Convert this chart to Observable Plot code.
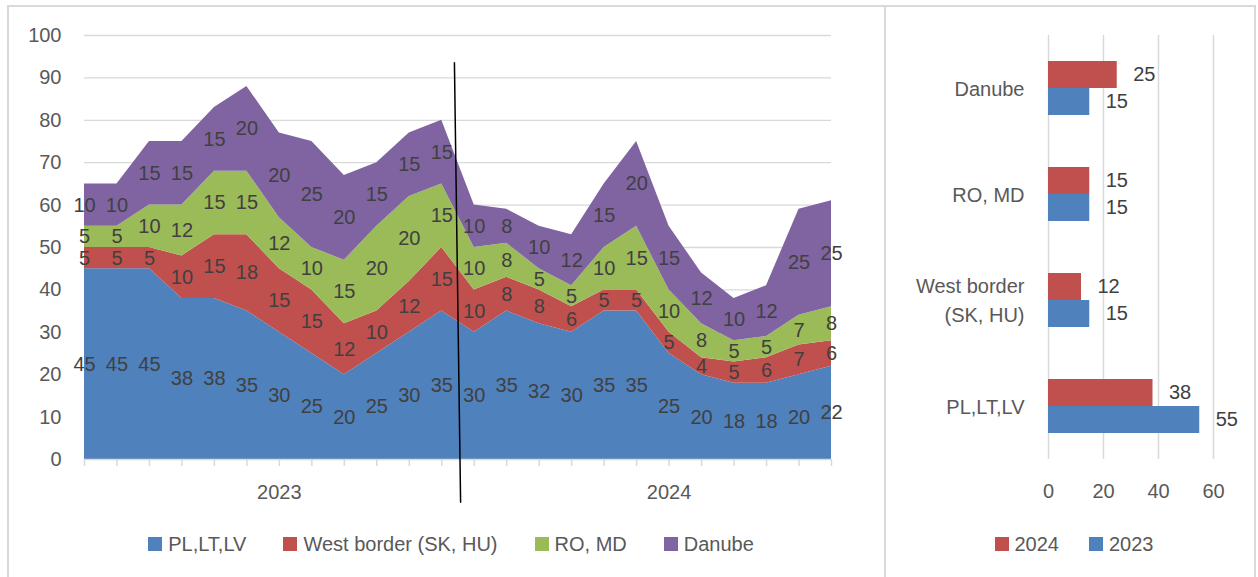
<!DOCTYPE html>
<html>
<head>
<meta charset="utf-8">
<script src="https://cdn.jsdelivr.net/npm/d3@7"></script>
<script src="https://cdn.jsdelivr.net/npm/@observablehq/plot@0.6"></script>
<style>
  html, body { margin: 0; padding: 0; background: #fff; }
  #root { position: relative; width: 1258px; height: 577px; overflow: hidden; background: #fff;
          font-family: "Liberation Sans", Arial, sans-serif; }
  .frame { position: absolute; left: 7px; top: 5px; width: 1249px; height: 640px;
           border: 2px solid #d9d9d9; box-sizing: border-box; }
  .divider { position: absolute; left: 884px; top: 5px; width: 2px; height: 640px; background: #d9d9d9; }
  #left { position: absolute; left: 0; top: 0; }
  #right { position: absolute; left: 885px; top: 0; }
  .legend { position: absolute; top: 532px; height: 24px; display: flex; justify-content: center;
            align-items: center; font-size: 20px; color: #595959; }
  .legend .item { display: flex; align-items: center; margin: 0 15px; white-space: nowrap; }
  #legendLeft .item { margin: 0 18.5px; }
  .legend .sw { width: 14px; height: 14px; margin-right: 6px; }
  svg { overflow: visible; }
</style>
</head>
<body>
<div id="root">
  <div class="frame"></div>
  <div class="divider"></div>
  <div id="left"></div>
  <div id="right"></div>
  <div class="legend" id="legendLeft" style="left:0; width:902px;"></div>
  <div class="legend" id="legendRight" style="left:890px; width:368px;"></div>
</div>
<script>
// ---------- data ----------
const seriesNames = ["PL,LT,LV", "West border (SK, HU)", "RO, MD", "Danube"];
const seriesColors = ["#4f81bd", "#c0504d", "#9bbb59", "#8064a2"];
const monthYear = ["2023","2023","2023","2023","2023","2023","2023","2023","2023","2023","2023","2023",
                   "2024","2024","2024","2024","2024","2024","2024","2024","2024","2024","2024","2024"];
const plLtLv     = [45,45,45,38,38,35,30,25,20,25,30,35, 30,35,32,30,35,35,25,20,18,18,20,22];
const westBorder = [5,5,5,10,15,18,15,15,12,10,12,15, 10,8,8,6,5,5,5,4,5,6,7,6];
const roMd       = [5,5,10,12,15,15,12,10,15,20,20,15, 10,8,5,5,10,15,10,8,5,5,7,8];
const danube     = [10,10,15,15,15,20,20,25,20,15,15,15, 10,8,10,12,15,20,15,12,10,12,25,25];
const yTicks = [0,10,20,30,40,50,60,70,80,90,100];
// hand-drawn divider line (data coordinates: month index, value)
const divider = [{i: 11.39, v: 93.6}, {i: 11.58, v: -10.1}];

const barCategories = ["Danube", "RO, MD", "West border (SK, HU)", "PL,LT,LV"];
const barYears = ["2024", "2023"];
const barColors = ["#c0504d", "#4f81bd"];
const bar2024 = [25, 15, 12, 38];
const bar2023 = [15, 15, 15, 55];
const barTicks = [0, 20, 40, 60];

// ---------- derived tables ----------
const seriesValues = [plLtLv, westBorder, roMd, danube];
const long = seriesNames.flatMap((s, k) => seriesValues[k].map((v, i) => ({series: s, i, value: v})));
const monthIdx = monthYear.map((_, i) => i);
const yearCenters = Array.from(d3.group(monthIdx, i => monthYear[i]), ([year, idx]) => ({year, center: d3.mean(idx) + 0.5}));
const barData = barCategories.flatMap((c, k) => [
  {category: c, year: "2024", value: bar2024[k]},
  {category: c, year: "2023", value: bar2023[k]}
]);

const FONT = '"Liberation Sans", Arial, sans-serif';
const GRID = "#d9d9d9";

// ---------- left: stacked area ----------
const left = Plot.plot({
  width: 880, height: 512,
  marginLeft: 84, marginRight: 49, marginTop: 35, marginBottom: 53,
  x: {type: "linear", domain: [0, monthYear.length - 1], axis: null},
  y: {domain: [0, 100], axis: null},
  color: {domain: seriesNames, range: seriesColors},
  style: {fontFamily: FONT, fontSize: "20px", color: "#595959", background: "transparent"},
  marks: [
    Plot.gridY(yTicks.slice(1), {stroke: GRID, strokeOpacity: 1, strokeWidth: 1.3}),
    Plot.areaY(long, {x: "i", y: "value", z: "series", fill: "series", fillOpacity: 1}),
    Plot.ruleY([0], {stroke: GRID, strokeWidth: 1.5}),
    Plot.axisY({ticks: yTicks, tickSize: 0, tickPadding: 23, fontSize: 20, fill: "#595959", label: null}),
    Plot.axisX({ticks: monthIdx, tickSize: 7, tickFormat: () => "", stroke: GRID, strokeOpacity: 1, strokeWidth: 1.5, label: null}),
    Plot.text(long, Plot.stackY({x: "i", y: "value", z: "series", text: "value", fill: "#404040", fontSize: 20})),
    Plot.text(yearCenters, {x: "center", frameAnchor: "bottom", lineAnchor: "middle", dy: 33, text: "year", fill: "#595959", fontSize: 20}),
    Plot.line(divider, {x: "i", y: "v", stroke: "black", strokeWidth: 1.5, clip: false})
  ]
});
document.getElementById("left").appendChild(left);

// ---------- right: grouped horizontal bars ----------
const wrap = s => s.replace(" (", "\n(");
const right = Plot.plot({
  width: 373, height: 512,
  marginLeft: 163, marginRight: 45, marginTop: 35, marginBottom: 53,
  x: {domain: [0, 60], axis: null},
  fy: {domain: barCategories, padding: 0, axis: null, round: false},
  y: {domain: barYears, paddingInner: 0, paddingOuter: 0.963, axis: null, round: false},
  color: {domain: barYears, range: barColors},
  style: {fontFamily: FONT, fontSize: "20px", color: "#595959", background: "transparent"},
  marks: [
    Plot.gridX(barTicks, {stroke: GRID, strokeOpacity: 1, strokeWidth: 1.5}),
    Plot.barX(barData, {x: "value", y: "year", fy: "category", fill: "year", inset: 0}),
    Plot.text(barData, {x: "value", y: "year", fy: "category", text: "value", textAnchor: "start", dx: 16, fill: "#404040", fontSize: 20}),
    Plot.text(barCategories, {fy: d => d, frameAnchor: "left", textAnchor: "end", dx: -24, dy: -2, text: wrap, lineHeight: 1.45, fill: "#595959", fontSize: 20}),
    Plot.axisX({ticks: barTicks, tickSize: 0, tickPadding: 24, fontSize: 20, fill: "#595959", label: null})
  ]
});
document.getElementById("right").appendChild(right);

// ---------- legends ----------
function legend(el, names, colors) {
  names.forEach((n, k) => {
    const item = document.createElement("div");
    item.className = "item";
    const sw = document.createElement("div");
    sw.className = "sw";
    sw.style.background = colors[k];
    const t = document.createElement("span");
    t.textContent = n;
    item.appendChild(sw); item.appendChild(t);
    el.appendChild(item);
  });
}
legend(document.getElementById("legendLeft"), seriesNames, seriesColors);
legend(document.getElementById("legendRight"), barYears, barColors);
</script>
</body>
</html>
